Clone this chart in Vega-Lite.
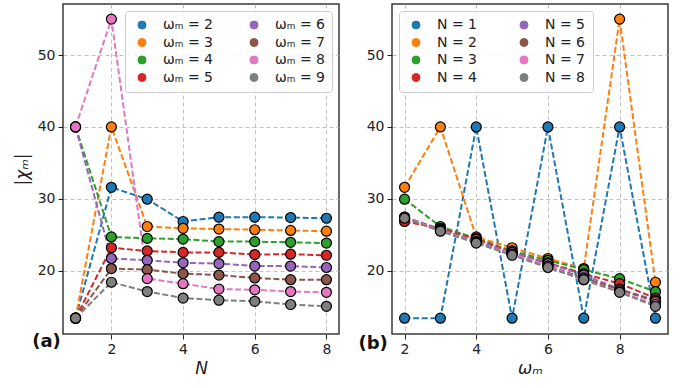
{
  "$schema": "https://vega.github.io/schema/vega-lite/v6.json",
  "padding": {"left": 12, "top": 3, "right": 0, "bottom": 0},
  "data": {"values": [
    {"w": 2, "N": 1, "chi": 13.4}, {"w": 2, "N": 2, "chi": 31.6}, {"w": 2, "N": 3, "chi": 29.95}, {"w": 2, "N": 4, "chi": 26.85}, {"w": 2, "N": 5, "chi": 27.45}, {"w": 2, "N": 6, "chi": 27.45}, {"w": 2, "N": 7, "chi": 27.4}, {"w": 2, "N": 8, "chi": 27.3},
    {"w": 3, "N": 1, "chi": 13.4}, {"w": 3, "N": 2, "chi": 40.0}, {"w": 3, "N": 3, "chi": 26.15}, {"w": 3, "N": 4, "chi": 25.9}, {"w": 3, "N": 5, "chi": 25.8}, {"w": 3, "N": 6, "chi": 25.7}, {"w": 3, "N": 7, "chi": 25.6}, {"w": 3, "N": 8, "chi": 25.5},
    {"w": 4, "N": 1, "chi": 40.0}, {"w": 4, "N": 2, "chi": 24.7}, {"w": 4, "N": 3, "chi": 24.5}, {"w": 4, "N": 4, "chi": 24.4}, {"w": 4, "N": 5, "chi": 24.05}, {"w": 4, "N": 6, "chi": 24.05}, {"w": 4, "N": 7, "chi": 23.95}, {"w": 4, "N": 8, "chi": 23.85},
    {"w": 5, "N": 1, "chi": 13.4}, {"w": 5, "N": 2, "chi": 23.2}, {"w": 5, "N": 3, "chi": 22.75}, {"w": 5, "N": 4, "chi": 22.55}, {"w": 5, "N": 5, "chi": 22.55}, {"w": 5, "N": 6, "chi": 22.25}, {"w": 5, "N": 7, "chi": 22.3}, {"w": 5, "N": 8, "chi": 22.15},
    {"w": 6, "N": 1, "chi": 40.0}, {"w": 6, "N": 2, "chi": 21.7}, {"w": 6, "N": 3, "chi": 21.45}, {"w": 6, "N": 4, "chi": 21.1}, {"w": 6, "N": 5, "chi": 21.0}, {"w": 6, "N": 6, "chi": 20.65}, {"w": 6, "N": 7, "chi": 20.65}, {"w": 6, "N": 8, "chi": 20.45},
    {"w": 7, "N": 1, "chi": 13.4}, {"w": 7, "N": 2, "chi": 20.3}, {"w": 7, "N": 3, "chi": 20.15}, {"w": 7, "N": 4, "chi": 19.6}, {"w": 7, "N": 5, "chi": 19.4}, {"w": 7, "N": 6, "chi": 19.0}, {"w": 7, "N": 7, "chi": 18.75}, {"w": 7, "N": 8, "chi": 18.75},
    {"w": 8, "N": 1, "chi": 40.0}, {"w": 8, "N": 2, "chi": 55.0}, {"w": 8, "N": 3, "chi": 18.9}, {"w": 8, "N": 4, "chi": 18.2}, {"w": 8, "N": 5, "chi": 17.45}, {"w": 8, "N": 6, "chi": 17.35}, {"w": 8, "N": 7, "chi": 17.1}, {"w": 8, "N": 8, "chi": 17.0},
    {"w": 9, "N": 1, "chi": 13.4}, {"w": 9, "N": 2, "chi": 18.4}, {"w": 9, "N": 3, "chi": 17.1}, {"w": 9, "N": 4, "chi": 16.2}, {"w": 9, "N": 5, "chi": 15.9}, {"w": 9, "N": 6, "chi": 15.75}, {"w": 9, "N": 7, "chi": 15.3}, {"w": 9, "N": 8, "chi": 15.05}
  ]},
  "config": {
    "font": "DejaVu Sans",
    "view": {"stroke": "#3a3a3a", "strokeWidth": 1.5},
    "axis": {"domain": false, "grid": true, "gridColor": "#b0b0b0", "gridDash": [4, 3], "gridWidth": 0.8, "tickColor": "#222222", "tickSize": 5, "labelFontSize": 14, "labelColor": "#222222", "labelPadding": 3, "titleFontSize": 17, "titleFontWeight": "normal", "titleColor": "#222222", "titleFontStyle": "italic"}
  },
  "spacing": 17,
  "hconcat": [
    {
      "width": 276, "height": 330,
      "title": {"text": "(a)", "orient": "bottom", "anchor": "start", "frame": "bounds", "fontSize": 18, "fontWeight": "bold", "color": "#111111", "offset": -43, "dx": 19},
      "encoding": {
        "x": {"field": "N", "type": "quantitative", "scale": {"domain": [0.65, 8.35], "nice": false, "zero": false}, "axis": {"values": [2, 4, 6, 8], "title": "N"}},
        "y": {"field": "chi", "type": "quantitative", "scale": {"domain": [11.2, 57.1], "nice": false, "zero": false}, "axis": {"values": [20, 30, 40, 50], "title": "|χₘ|", "titlePadding": 6}},
        "color": {"field": "w", "type": "ordinal", "scale": {"domain": [2, 3, 4, 5, 6, 7, 8, 9], "range": ["#1f77b4", "#ff7f0e", "#2ca02c", "#d62728", "#9467bd", "#8c564b", "#e377c2", "#7f7f7f"]},
          "legend": {"title": null, "orient": "top-right", "offset": 7, "columns": 2, "columnPadding": 31, "labelExpr": "'ωₘ = ' + datum.label", "symbolType": "circle", "symbolSize": 64, "symbolStrokeColor": "black", "symbolStrokeWidth": 1, "symbolOpacity": 1, "symbolDash": [], "labelFontSize": 14, "labelColor": "#222222", "rowPadding": 3.5, "padding": 7, "fillColor": "rgba(255,255,255,0.85)", "strokeColor": "#cccccc", "cornerRadius": 3, "symbolOffset": 3, "labelOffset": 14}}
      },
      "layer": [
        {"mark": {"type": "line", "strokeDash": [6, 2.6], "strokeWidth": 2}},
        {"mark": {"type": "point", "filled": true, "size": 100, "stroke": "black", "strokeWidth": 1.2, "opacity": 1}}
      ]
    },
    {
      "width": 276, "height": 330,
      "encoding": {
        "x": {"field": "w", "type": "quantitative", "scale": {"domain": [1.65, 9.35], "nice": false, "zero": false}, "axis": {"values": [2, 4, 6, 8], "title": "ωₘ"}},
        "y": {"field": "chi", "type": "quantitative", "scale": {"domain": [11.2, 57.1], "nice": false, "zero": false}, "axis": {"values": [20, 30, 40, 50], "title": "(b)", "titleAngle": 0, "titleX": -34, "titleY": 344, "titleAlign": "left", "titleBaseline": "alphabetic", "titleFontSize": 18, "titleFontWeight": "bold", "titleFontStyle": "normal", "titleColor": "#111111"}},
        "color": {"field": "N", "type": "ordinal", "scale": {"domain": [1, 2, 3, 4, 5, 6, 7, 8], "range": ["#1f77b4", "#ff7f0e", "#2ca02c", "#d62728", "#9467bd", "#8c564b", "#e377c2", "#7f7f7f"]},
          "legend": {"title": null, "orient": "top-left", "offset": 7, "columns": 2, "columnPadding": 36, "labelExpr": "'N = ' + datum.label", "symbolType": "circle", "symbolSize": 64, "symbolStrokeColor": "black", "symbolStrokeWidth": 1, "symbolOpacity": 1, "symbolDash": [], "labelFontSize": 14, "labelColor": "#222222", "rowPadding": 3.5, "padding": 7, "fillColor": "rgba(255,255,255,0.85)", "strokeColor": "#cccccc", "cornerRadius": 3, "symbolOffset": 3, "labelOffset": 14}}
      },
      "layer": [
        {"mark": {"type": "line", "strokeDash": [6, 2.6], "strokeWidth": 2}},
        {"mark": {"type": "point", "filled": true, "size": 100, "stroke": "black", "strokeWidth": 1.2, "opacity": 1}}
      ]
    }
  ],
  "resolve": {"scale": {"color": "independent", "x": "independent"}, "legend": {"color": "independent"}}
}
